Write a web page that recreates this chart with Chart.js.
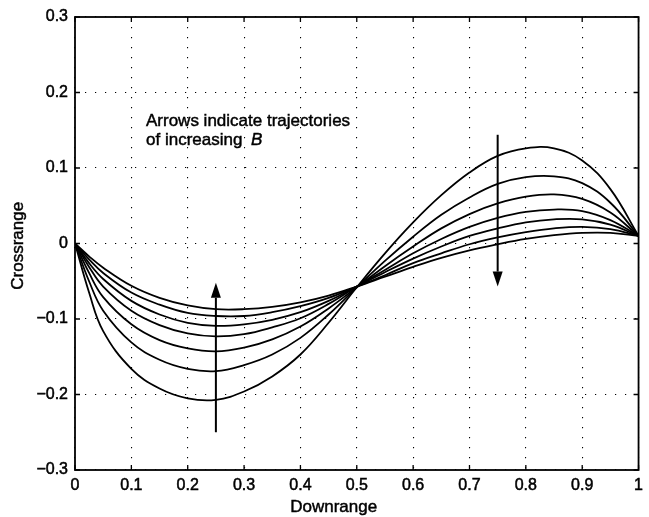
<!DOCTYPE html>
<html>
<head>
  <title>Crossrange vs Downrange</title>
  <style>
    html, body { margin: 0; padding: 0; background: #fff; }
  </style>
</head>
<body>
  <canvas id="myChart" width="649" height="517"></canvas>
  <script src="https://cdn.jsdelivr.net/npm/chart.js@4.4.0/dist/chart.umd.min.js"></script>
  <script>
    const downrange = [0, 0.025, 0.05, 0.1, 0.15, 0.2, 0.25, 0.3, 0.35, 0.4, 0.45, 0.5, 0.55, 0.6, 0.65, 0.7, 0.75, 0.8, 0.85, 0.9, 0.95, 1];

    // crossrange, one array per trajectory (smallest swing first)
    const traj1 = [0, -0.017, -0.032, -0.056, -0.072, -0.082, -0.087, -0.087, -0.084, -0.078, -0.069, -0.057, -0.044, -0.031, -0.019, -0.009, -0.001, 0.006, 0.011, 0.014, 0.014, 0.010];
    const traj2 = [0, -0.021, -0.039, -0.065, -0.081, -0.092, -0.096, -0.096, -0.091, -0.083, -0.072, -0.057, -0.042, -0.026, -0.013, -0.001, 0.008, 0.015, 0.020, 0.022, 0.019, 0.010];
    const traj3 = [0, -0.026, -0.047, -0.076, -0.094, -0.105, -0.109, -0.107, -0.101, -0.091, -0.076, -0.057, -0.038, -0.020, -0.004, 0.010, 0.020, 0.028, 0.032, 0.032, 0.025, 0.010];
    const traj4 = [0, -0.031, -0.057, -0.089, -0.108, -0.119, -0.123, -0.120, -0.111, -0.099, -0.080, -0.057, -0.035, -0.013, 0.006, 0.022, 0.034, 0.042, 0.045, 0.043, 0.031, 0.010];
    const traj5 = [0, -0.039, -0.071, -0.107, -0.128, -0.139, -0.143, -0.138, -0.127, -0.110, -0.086, -0.058, -0.030, -0.004, 0.020, 0.039, 0.053, 0.062, 0.065, 0.059, 0.041, 0.010];
    const traj6 = [0, -0.050, -0.089, -0.131, -0.154, -0.166, -0.169, -0.161, -0.147, -0.125, -0.094, -0.058, -0.023, 0.009, 0.038, 0.061, 0.079, 0.088, 0.089, 0.080, 0.054, 0.010];
    const traj7 = [0, -0.065, -0.116, -0.166, -0.192, -0.205, -0.207, -0.196, -0.176, -0.147, -0.105, -0.058, -0.013, 0.028, 0.064, 0.094, 0.116, 0.126, 0.126, 0.110, 0.072, 0.010];

    const xTicks = [0, 0.1, 0.2, 0.3, 0.4, 0.5, 0.6, 0.7, 0.8, 0.9, 1];
    const yTicks = [-0.3, -0.2, -0.1, 0, 0.1, 0.2, 0.3];

    // arrows: [x, tail y, head y]
    const arrowUp = [0.25, -0.25, -0.052];
    const arrowDown = [0.75, 0.144, -0.057];

    const noteLine1 = 'Arrows indicate trajectories';
    const noteLine2 = 'of increasing ';
    const noteSymbol = 'B';
    const xTitle = 'Downrange';
    const yTitle = 'Crossrange';

    const trajectories = [traj1, traj2, traj3, traj4, traj5, traj6, traj7];

    function fmt(v) {
      let r = Math.round(v * 10) / 10;
      if (r === 0) return '0';
      let s = String(Math.abs(r));
      return (r < 0 ? '\u2212' : '') + s;
    }

    const FONT = 'Liberation Sans, Arial, Helvetica, sans-serif';

    // scanned-looking text: fill plus a thin stroke
    function heavyText(ctx, txt, x, y) {
      ctx.fillText(txt, x, y);
      ctx.strokeText(txt, x, y);
    }

    const extras = {
      id: 'extras',
      afterDatasetsDraw(chart) {
        const ctx = chart.ctx;
        const xs = chart.scales.x, ys = chart.scales.y;
        const a = chart.chartArea;
        ctx.save();
        ctx.strokeStyle = '#000';
        ctx.fillStyle = '#000';
        ctx.setLineDash([]);

        // inner tick marks
        ctx.lineWidth = 1.3;
        ctx.beginPath();
        xTicks.forEach(v => {
          const px = xs.getPixelForValue(v);
          ctx.moveTo(px, a.bottom); ctx.lineTo(px, a.bottom - 5);
          ctx.moveTo(px, a.top); ctx.lineTo(px, a.top + 5);
        });
        yTicks.forEach(v => {
          const py = ys.getPixelForValue(v);
          ctx.moveTo(a.left, py); ctx.lineTo(a.left + 5, py);
          ctx.moveTo(a.right, py); ctx.lineTo(a.right - 5, py);
        });
        ctx.stroke();

        // box
        ctx.lineWidth = 1.8;
        ctx.strokeRect(a.left, a.top, a.right - a.left, a.bottom - a.top);

        // arrows
        function arrow(spec) {
          const px = xs.getPixelForValue(spec[0]);
          const y0 = ys.getPixelForValue(spec[1]);
          const y1 = ys.getPixelForValue(spec[2]);
          const dir = y1 < y0 ? 1 : -1;
          const headLen = 15, headHalf = 5;
          ctx.lineWidth = 2;
          ctx.beginPath();
          ctx.moveTo(px, y0);
          ctx.lineTo(px, y1 + dir * headLen);
          ctx.stroke();
          ctx.beginPath();
          ctx.moveTo(px, y1);
          ctx.lineTo(px - headHalf, y1 + dir * headLen);
          ctx.lineTo(px + headHalf, y1 + dir * headLen);
          ctx.closePath();
          ctx.fill();
        }
        arrow(arrowUp);
        arrow(arrowDown);

        // note
        ctx.lineWidth = 0.45;
        const tx = xs.getPixelForValue(0.126);
        ctx.font = '17px ' + FONT;
        ctx.textAlign = 'left';
        ctx.textBaseline = 'alphabetic';
        heavyText(ctx, noteLine1, tx, 125.5);
        heavyText(ctx, noteLine2, tx, 144.5);
        const w = ctx.measureText(noteLine2).width;
        ctx.font = 'italic 17px ' + FONT;
        heavyText(ctx, noteSymbol, tx + w + 4, 144.5);

        // axis titles
        ctx.font = '17px ' + FONT;
        ctx.textAlign = 'center';
        ctx.textBaseline = 'middle';
        heavyText(ctx, xTitle, xs.getPixelForValue(0.459), 507);
        ctx.translate(18, ys.getPixelForValue(-0.003));
        ctx.rotate(-Math.PI / 2);
        heavyText(ctx, yTitle, 0, 0);
        ctx.restore();
      }
    };

    const tickStyle = { color: '#000', font: { family: FONT, size: 16 }, textStrokeColor: '#000', textStrokeWidth: 0.5, callback: v => fmt(v) };

    const ctx = document.getElementById('myChart').getContext('2d');
    new Chart(ctx, {
      type: 'scatter',
      data: {
        datasets: trajectories.map(t => ({
          data: downrange.map((x, i) => ({ x: x, y: t[i] })),
          showLine: true,
          borderColor: '#000',
          borderWidth: 1.8,
          pointRadius: 0,
          tension: 0.4,
          fill: false
        }))
      },
      options: {
        responsive: false,
        animation: false,
        layout: { padding: { left: 0, top: 17, right: 4, bottom: 0 } },
        plugins: { legend: { display: false }, tooltip: { enabled: false } },
        scales: {
          x: {
            type: 'linear', min: 0, max: 1,
            afterFit: s => { s.height = 47; },
            afterBuildTicks: s => { s.ticks = xTicks.map(v => ({ value: v })); },
            ticks: Object.assign({ padding: 6, maxRotation: 0 }, tickStyle),
            grid: { color: '#000', lineWidth: 1.1, drawTicks: false },
            border: { display: false, dash: [1.2, 8.8] }
          },
          y: {
            type: 'linear', min: -0.3, max: 0.3,
            afterFit: s => { s.width = 75; },
            afterBuildTicks: s => { s.ticks = yTicks.map(v => ({ value: v })); },
            ticks: Object.assign({ padding: 7 }, tickStyle),
            grid: { color: '#000', lineWidth: 1.1, drawTicks: false },
            border: { display: false, dash: [1.2, 8.8] }
          }
        }
      },
      plugins: [extras]
    });
  </script>
</body>
</html>
